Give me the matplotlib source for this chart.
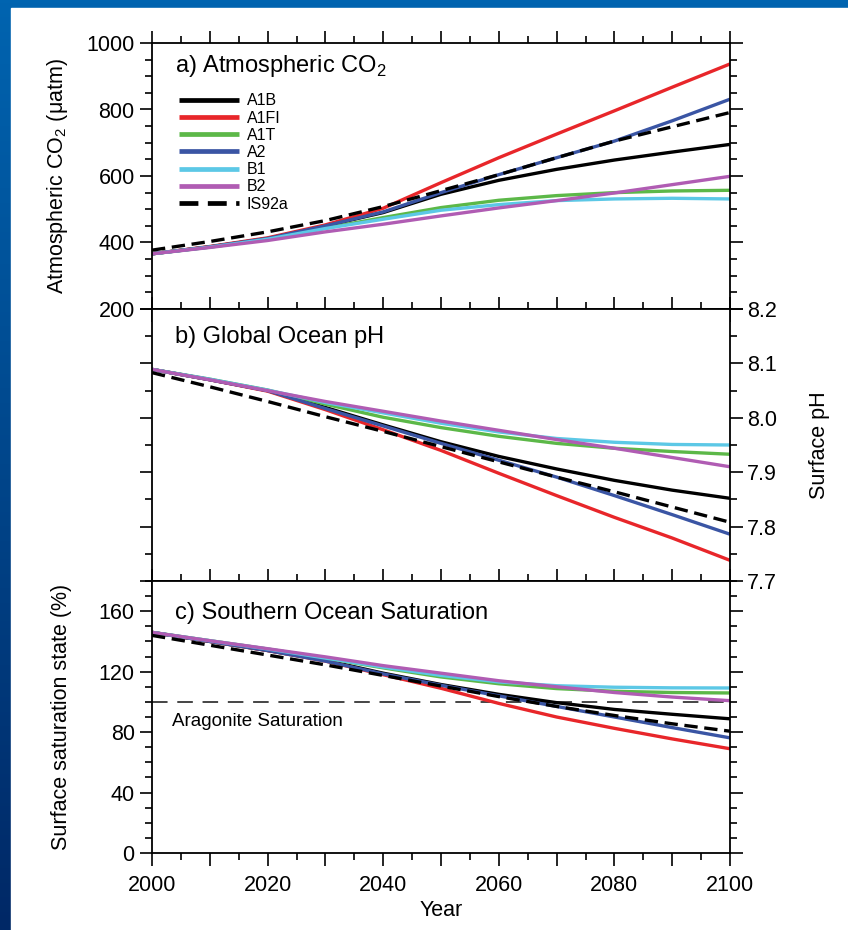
import matplotlib

matplotlib.use("Agg")
import matplotlib.pyplot as plt
import numpy as np
from matplotlib.patches import Rectangle
from matplotlib.ticker import FormatStrFormatter, MultipleLocator

YEARS = [2000, 2010, 2020, 2030, 2040, 2050, 2060, 2070, 2080, 2090, 2100]
SCENARIOS = ["A1B", "A1FI", "A1T", "A2", "B1", "B2", "IS92a"]

# a) atmospheric CO2 (uatm)
CO2 = {
    "A1B": [366, 387, 412, 450, 490, 545, 587, 620, 648, 672, 695],
    "A1FI": [366, 388, 414, 453, 503, 580, 655, 726, 796, 867, 937],
    "A1T": [366, 386, 410, 443, 475, 505, 527, 541, 550, 555, 557],
    "A2": [366, 387, 412, 450, 492, 550, 604, 655, 705, 766, 831],
    "B1": [366, 386, 410, 442, 470, 497, 514, 526, 531, 533, 531],
    "B2": [366, 385, 406, 432, 455, 480, 504, 526, 549, 574, 599],
    "IS92a": [377, 403, 432, 466, 508, 556, 604, 655, 705, 748, 791],
}

# b) global ocean surface pH
PH = {
    "A1B": [8.089, 8.070, 8.050, 8.019, 7.987, 7.956, 7.929, 7.906, 7.885, 7.867, 7.852],
    "A1FI": [8.089, 8.070, 8.049, 8.015, 7.978, 7.940, 7.898, 7.857, 7.817, 7.779, 7.738],
    "A1T": [8.089, 8.071, 8.051, 8.025, 8.001, 7.982, 7.966, 7.953, 7.944, 7.938, 7.933],
    "A2": [8.089, 8.070, 8.050, 8.017, 7.985, 7.953, 7.922, 7.891, 7.857, 7.822, 7.786],
    "B1": [8.089, 8.071, 8.051, 8.028, 8.009, 7.990, 7.974, 7.962, 7.955, 7.951, 7.950],
    "B2": [8.089, 8.070, 8.050, 8.030, 8.012, 7.994, 7.977, 7.960, 7.944, 7.927, 7.910],
    "IS92a": [8.083, 8.057, 8.030, 8.002, 7.975, 7.947, 7.919, 7.891, 7.864, 7.836, 7.808],
}

# c) southern ocean aragonite saturation (%)
SAT = {
    "A1B": [146, 140, 134, 127.5, 119, 111.5, 105, 99.5, 95, 91.8, 88.8],
    "A1FI": [146, 140, 134, 127, 118, 109, 99, 90, 82.5, 75.5, 69],
    "A1T": [146, 140.5, 135, 129, 122.5, 116.5, 112, 108.8, 107, 106.2, 105.9],
    "A2": [146, 140, 134, 127, 118.5, 111, 104, 97, 90, 83, 76.2],
    "B1": [146, 140.5, 135, 129, 123, 117.5, 113.2, 110.7, 109.7, 109.3, 109.2],
    "B2": [146, 140.5, 135.2, 129.8, 124, 119, 114, 110, 106.2, 103.2, 100.8],
    "IS92a": [144, 137.5, 131, 124.5, 117.5, 110.5, 103.5, 97, 91, 85.5, 80.6],
}
ARAGONITE_LEVEL = 100

STYLES = {
    "A1B": {"color": "#000000", "ls": "-"},
    "A1FI": {"color": "#e8262a", "ls": "-"},
    "A1T": {"color": "#5cb848", "ls": "-"},
    "A2": {"color": "#3a55a4", "ls": "-"},
    "B1": {"color": "#5cc8e6", "ls": "-"},
    "B2": {"color": "#b05cb3", "ls": "-"},
    "IS92a": {"color": "#000000", "ls": (0, (4, 2))},
}

plt.rcParams["font.family"] = ["Liberation Sans", "DejaVu Sans"]
plt.rcParams["mathtext.fontset"] = "custom"
plt.rcParams["mathtext.rm"] = "Liberation Sans"
plt.rcParams["axes.linewidth"] = 1.3

W, H = 848, 930
LEFT, RIGHT = 152 / W, 730 / W
PANEL_Y = [(43, 309), (309, 581), (581, 853)]


def draw_background(fig):
    bg = fig.add_axes([0, 0, 1, 1], zorder=-10)
    top = np.array([0, 100, 176]) / 255
    bottom = np.array([0, 40, 102]) / 255
    t = np.linspace(0, 1, 256)[:, None]
    grad = (top * (1 - t) + bottom * t)[:, None, :].repeat(2, axis=1)
    bg.imshow(grad, aspect="auto", extent=[0, 1, 0, 1])
    bg.add_patch(Rectangle((11 / W, 0), 1, 1 - 8 / H, color="white"))
    bg.set_xlim(0, 1)
    bg.set_ylim(0, 1)
    bg.axis("off")


def style_axis(ax):
    ax.set_xlim(2000, 2100)
    ax.xaxis.set_major_locator(MultipleLocator(10))
    ax.xaxis.set_minor_locator(MultipleLocator(5))
    ax.tick_params(which="both", direction="out", top=True, bottom=True,
                   left=True, right=True, labelsize=15.5, width=1.2)
    ax.tick_params(which="major", length=9)
    ax.tick_params(which="minor", length=5)
    ax.tick_params(axis="x", labelbottom=False)


def plot_lines(ax, data):
    for name in SCENARIOS:
        st = STYLES[name]
        ax.plot(YEARS, data[name], color=st["color"], linestyle=st["ls"],
                linewidth=2.4, label=name, solid_capstyle="butt")


def main():
    fig = plt.figure(figsize=(W / 100, H / 100), dpi=100)
    draw_background(fig)

    axes = []
    for top, bot in PANEL_Y:
        ax = fig.add_axes([LEFT, 1 - bot / H, RIGHT - LEFT, (bot - top) / H])
        style_axis(ax)
        axes.append(ax)
    ax_a, ax_b, ax_c = axes

    # a) CO2
    plot_lines(ax_a, CO2)
    ax_a.set_ylim(200, 1000)
    ax_a.yaxis.set_major_locator(MultipleLocator(200))
    ax_a.yaxis.set_minor_locator(MultipleLocator(50))
    ax_a.set_ylabel(r"Atmospheric CO$_2$ ($\mathrm{\mu}$atm)", fontsize=15.5)
    ax_a.yaxis.set_label_coords(-0.142, 0.5)
    ax_a.text(0.04, 0.915, r"a) Atmospheric CO$_2$", transform=ax_a.transAxes,
              fontsize=17, va="center", ha="left")
    ax_a.legend(loc="upper left", bbox_to_anchor=(0.035, 0.835), frameon=False,
                fontsize=11.5, handlelength=3.8, handletextpad=0.45,
                labelspacing=0.14, borderaxespad=0)
    for line in ax_a.get_legend().get_lines():
        line.set_linewidth(3.4)

    # b) pH
    plot_lines(ax_b, PH)
    ax_b.set_ylim(7.7, 8.2)
    ax_b.yaxis.set_major_locator(MultipleLocator(0.1))
    ax_b.yaxis.set_minor_locator(MultipleLocator(0.05))
    ax_b.yaxis.set_major_formatter(FormatStrFormatter("%.1f"))
    ax_b.tick_params(axis="y", labelleft=False, labelright=True)
    ax_b.yaxis.set_label_position("right")
    ax_b.set_ylabel("Surface pH", fontsize=15.5)
    ax_b.yaxis.set_label_coords(1.136, 0.5)
    ax_b.text(0.04, 0.897, "b) Global Ocean pH", transform=ax_b.transAxes,
              fontsize=17, va="center", ha="left")

    # c) saturation
    plot_lines(ax_c, SAT)
    ax_c.axhline(ARAGONITE_LEVEL, color="#444444", linewidth=1.4,
                 linestyle=(0, (8, 5)), zorder=1)
    ax_c.set_ylim(0, 180)
    ax_c.set_yticks([0, 40, 80, 120, 160])
    ax_c.yaxis.set_minor_locator(MultipleLocator(10))
    ax_c.set_ylabel("Surface saturation state (%)", fontsize=15.5)
    ax_c.yaxis.set_label_coords(-0.138, 0.5)
    ax_c.text(0.04, 0.882, "c) Southern Ocean Saturation", transform=ax_c.transAxes,
              fontsize=17, va="center", ha="left")
    ax_c.text(0.035, 0.485, "Aragonite Saturation", transform=ax_c.transAxes,
              fontsize=13.5, va="center", ha="left")
    ax_c.tick_params(axis="x", labelbottom=True, pad=7)
    ax_c.set_xticks(YEARS)
    ax_c.set_xticklabels([str(y) if (y - 2000) % 20 == 0 else "" for y in YEARS])
    ax_c.set_xlabel("Year", fontsize=15.5, labelpad=3)

    fig.savefig("out.png", dpi=100)
    plt.close(fig)


if __name__ == "__main__":
    main()
